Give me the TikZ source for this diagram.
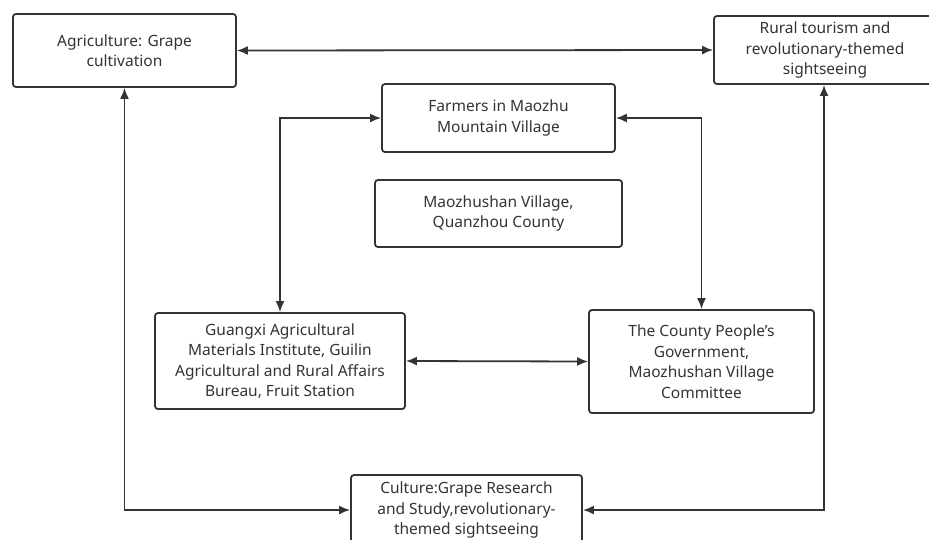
\documentclass[tikz,border=0pt]{standalone}
\usepackage{fontspec}
\setmainfont{Noto Sans}
\usepackage{xcolor}
\usetikzlibrary{arrows.meta}
\definecolor{gris}{rgb}{0.2, 0.2, 0.2}

\begin{document}
\begin{tikzpicture}[x = 1pt, y = -1pt,
	caja/.style = {draw = gris, line width = 1.8pt, rounded corners = 3pt, align = center, inner sep = 0pt, text = gris, font = \fontsize{15.5}{20.5}\selectfont},
	flecha/.style = {draw = gris, line width = 1.8pt, {Latex[length=11pt,width=9pt]}-{Latex[length=11pt,width=9pt]}}]
						\useasboundingbox (0,0) rectangle (929,539);
						\clip (0,0) rectangle (929,539);
						\node[caja, minimum width = 223pt, minimum height = 73pt] (agri) at (124.5,50.5) {Agriculture: Grape\\cultivation};
						\node[caja, minimum width = 222pt, minimum height = 68pt] (turismo) at (825,50) {Rural tourism and\\revolutionary-themed\\sightseeing};
						\node[caja, minimum width = 233pt, minimum height = 68pt] (campesinos) at (498.5,118) {Farmers in Maozhu\\Mountain Village};
						\node[caja, minimum width = 247pt, minimum height = 67pt] (aldea) at (498.5,213.5) {Maozhushan Village,\\Quanzhou County};
						\node[caja, minimum width = 250pt, minimum height = 96pt] (instituto) at (280,361) {Guangxi Agricultural\\Materials Institute, Guilin\\Agricultural and Rural Affairs\\Bureau, Fruit Station};
						\node[caja, minimum width = 225pt, minimum height = 103pt] (gobierno) at (701.5,361.5) {The County People's\\Government,\\Maozhushan Village\\Committee};
						\node[caja, minimum width = 231pt, minimum height = 70pt] (cultura) at (466.5,510) {Culture:Grape Research\\and Study,revolutionary-\\themed sightseeing};
						\draw[flecha] (agri.east) -- (turismo.west);
						\draw[flecha] (agri.south) |- (cultura.west);
						\draw[flecha] (turismo.south -| 824,0) |- (cultura.east);
						\draw[flecha] (campesinos.west) -| (instituto.north);
						\draw[flecha] (campesinos.east) -| (gobierno.north);
						\draw[flecha] (instituto.east) -- (gobierno.west);
					\end{tikzpicture}
\end{document}
